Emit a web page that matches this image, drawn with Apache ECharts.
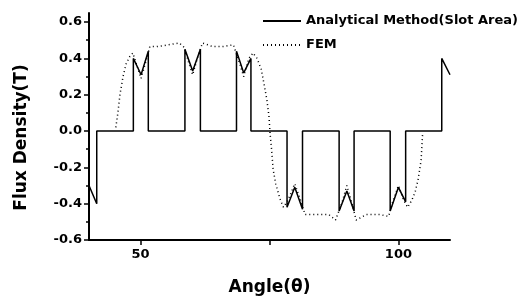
<!DOCTYPE html>
<html>
<head>
<meta charset="utf-8">
<script src="https://cdn.jsdelivr.net/npm/echarts@6.0.0/dist/echarts.min.js"></script>
<style>
  html, body { margin: 0; padding: 0; background: #fff; }
  #flux-chart { width: 528px; height: 303px; }
</style>
</head>
<body>
<div id="flux-chart"></div>
<script>
// analytical method (slot area) - step pulses
const analyticAngle = [40, 41.5, 41.5, 48.6, 48.6, 50.1, 51.5, 51.5, 58.6, 58.6, 60.1, 61.6, 61.6,
  68.6, 68.6, 70.0, 71.4, 71.4, 78.4, 78.4, 79.9, 81.4, 81.4, 88.5, 88.5, 90.0, 91.4, 91.4,
  98.4, 98.4, 100.0, 101.4, 101.4, 108.4, 108.4, 110];
const analyticFlux = [-0.30, -0.40, 0, 0, 0.40, 0.31, 0.44, 0, 0, 0.45, 0.33, 0.45, 0,
  0, 0.44, 0.32, 0.40, 0, 0, -0.42, -0.31, -0.43, 0, 0, -0.44, -0.33, -0.44, 0,
  0, -0.44, -0.31, -0.39, 0, 0, 0.40, 0.31];

// FEM result
const femAngle = [45.2, 45.6, 46.0, 46.6, 47.2, 47.9, 48.5, 49.3, 50.1, 51.0, 51.8, 53.0, 54.5, 56.0,
  57.5, 58.5, 59.3, 60.1, 61.0, 62.0, 63.0, 64.0, 66.0, 68.0, 69.0, 70.0, 71.0, 71.8, 72.6, 73.4,
  74.0, 74.5, 74.9, 75.1, 75.4, 75.7, 76.2, 77.0, 77.7, 78.6, 79.9, 81.0, 81.9, 83.9, 86.5, 87.8,
  89.0, 90.0, 91.0, 91.8, 93.8, 96.4, 98.1, 99.0, 100.0, 101.0, 101.8, 102.6, 103.2, 103.8, 104.4, 104.7];
const femFlux = [0.02, 0.10, 0.20, 0.30, 0.37, 0.41, 0.43, 0.36, 0.29, 0.38, 0.465, 0.465, 0.47, 0.478,
  0.485, 0.46, 0.38, 0.31, 0.40, 0.485, 0.475, 0.465, 0.465, 0.475, 0.39, 0.30, 0.40, 0.43, 0.40, 0.34,
  0.25, 0.17, 0.08, -0.01, -0.10, -0.21, -0.29, -0.37, -0.42, -0.38, -0.29, -0.38, -0.46, -0.46, -0.46, -0.49,
  -0.40, -0.30, -0.40, -0.49, -0.46, -0.46, -0.47, -0.38, -0.30, -0.38, -0.42, -0.38, -0.34, -0.27, -0.16, -0.01];

const xLabels = [50, 100];
const xTicks = [50, 75, 100];
const yTicks = [-0.6, -0.4, -0.2, 0, 0.2, 0.4, 0.6];
const yMinorTicks = [-0.5, -0.3, -0.1, 0.1, 0.3, 0.5];

const font = 'DejaVu Sans';
const chart = echarts.init(document.getElementById('flux-chart'));

const baseY = {
  type: 'value', min: -0.6, max: 0.65, position: 'left',
  splitLine: { show: false }
};

const option = {
  backgroundColor: '#fff',
  animation: false,
  grid: { left: 89, right: 78, top: 13, bottom: 63 },
  legend: {
    orient: 'vertical',
    left: 262, top: 14,
    padding: 0,
    itemWidth: 38, itemHeight: 14, itemGap: 10,
    itemStyle: { opacity: 0 },
    textStyle: { fontFamily: font, fontWeight: 'bold', fontSize: 13, color: '#000', lineHeight: 14 },
    data: ['Analytical Method(Slot Area)', 'FEM']
  },
  xAxis: {
    type: 'value', min: 40, max: 110, position: 'bottom',
    splitLine: { show: false },
    name: 'Angle(θ)', nameLocation: 'middle', nameGap: 39,
    nameTextStyle: { fontFamily: font, fontWeight: 'bold', fontSize: 17, color: '#000' },
    axisLine: { onZero: false, lineStyle: { color: '#000', width: 2 } },
    axisTick: { show: true, inside: false, length: 5, customValues: xTicks, lineStyle: { color: '#000', width: 1.5 } },
    axisLabel: { customValues: xLabels, margin: 8, fontFamily: font, fontWeight: 'bold', fontSize: 13, color: '#000' }
  },
  yAxis: [
    Object.assign({}, baseY, {
      name: 'Flux Density(T)', nameLocation: 'middle', nameGap: 59, nameRotate: 90,
      nameTextStyle: { fontFamily: font, fontWeight: 'bold', fontSize: 17, color: '#000', padding: [0, 22, 0, 0] },
      axisLine: { show: true, onZero: false, lineStyle: { color: '#000', width: 2 } },
      axisTick: { show: true, inside: false, length: 5, customValues: yTicks, lineStyle: { color: '#000', width: 1.5 } },
      axisLabel: {
        customValues: yTicks, margin: 7, fontFamily: font, fontWeight: 'bold', fontSize: 13, color: '#000',
        formatter: v => v.toFixed(1)
      }
    }),
    Object.assign({}, baseY, {
      axisLine: { show: false, onZero: false },
      axisTick: { show: true, inside: false, length: 3, customValues: yMinorTicks, lineStyle: { color: '#000', width: 1.5 } },
      axisLabel: { show: false }
    })
  ],
  series: [
    {
      name: 'Analytical Method(Slot Area)',
      type: 'line',
      symbol: 'none',
      lineStyle: { color: '#000', width: 1.5 },
      itemStyle: { color: '#000' },
      data: analyticAngle.map((a, i) => [a, analyticFlux[i]])
    },
    {
      name: 'FEM',
      type: 'line',
      symbol: 'none',
      lineStyle: { color: '#000', width: 1.5, type: [1, 3] },
      itemStyle: { color: '#000' },
      data: femAngle.map((a, i) => [a, femFlux[i]])
    }
  ]
};

option && chart.setOption(option);
</script>
</body>
</html>
